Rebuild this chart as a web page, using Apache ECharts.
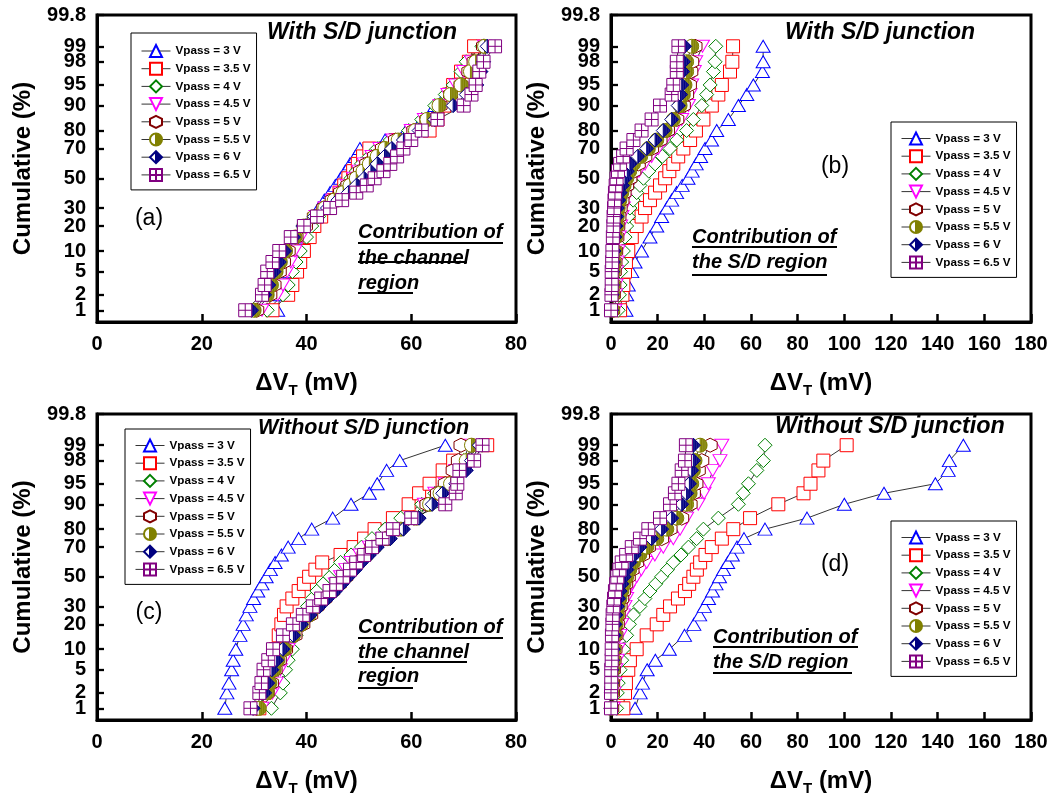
<!DOCTYPE html>
<html><head><meta charset="utf-8">
<script src="https://cdn.jsdelivr.net/npm/echarts@6/dist/echarts.min.js"></script>
<style>html,body{margin:0;padding:0;background:#fff}#c{width:1061px;height:801px}</style>
</head><body><div id="c"></div>
<script>
// ---------- DATA ----------
// cumulative probability levels (%) at which each series' dVT was read
const cumPct = [1, 2, 3, 5, 7, 10, 15, 20, 25, 30, 35, 40, 45, 50, 55, 60, 65, 70, 75, 80, 85, 90, 93, 95, 97, 98, 99];
const yTickPct = [1, 2, 5, 10, 20, 30, 50, 70, 80, 90, 95, 98, 99, 99.8];
const yTickLabels = ['1', '2', '5', '10', '20', '30', '50', '70', '80', '90', '95', '98', '99', '99.8'];
const yRangePct = [0.565, 99.8];
const seriesNames = ['Vpass = 3 V', 'Vpass = 3.5 V', 'Vpass = 4 V', 'Vpass = 4.5 V', 'Vpass = 5 V', 'Vpass = 5.5 V', 'Vpass = 6 V', 'Vpass = 6.5 V'];
const panelTitles = ['With S/D junction', 'With S/D junction', 'Without S/D junction', 'Without S/D junction'];
const panelLabels = ['(a)', '(b)', '(c)', '(d)'];
const xMaxes = [80, 180, 80, 180];

// (a) With S/D junction, channel region
const a_3V  = [34.5, 35.0, 35.3, 35.8, 36.3, 37.2, 38.5, 39.8, 41.0, 42.3, 43.4, 44.5, 45.5, 46.5, 47.4, 48.3, 49.3, 50.2, 55.0, 59.0, 62.0, 64.5, 66.5, 68.0, 69.8, 71.0, 72.5];
const a_35V = [33.5, 36.5, 37.3, 38.2, 38.8, 39.5, 40.6, 41.5, 42.8, 44.0, 45.2, 46.3, 47.2, 48.0, 48.9, 49.8, 50.8, 52.0, 57.0, 63.5, 65.0, 66.3, 67.2, 68.0, 69.5, 71.0, 72.0];
const a_4V  = [32.5, 35.5, 36.5, 37.3, 38.0, 38.8, 40.0, 41.0, 42.3, 43.8, 45.2, 46.5, 47.5, 48.5, 49.5, 50.5, 52.0, 53.5, 56.0, 59.5, 62.0, 64.5, 66.5, 68.0, 69.5, 70.5, 73.5];
const a_45V = [31.5, 34.5, 35.5, 36.3, 37.0, 37.8, 39.0, 40.3, 41.8, 43.5, 45.0, 46.5, 47.8, 49.0, 50.0, 51.0, 52.5, 54.0, 56.5, 60.0, 62.5, 65.5, 67.0, 68.5, 70.0, 71.5, 74.0];
const a_5V  = [30.5, 33.0, 33.8, 34.8, 35.6, 36.5, 38.0, 39.8, 41.5, 43.3, 44.9, 46.5, 47.9, 49.2, 50.3, 51.5, 53.0, 54.5, 57.0, 60.5, 63.0, 65.5, 67.5, 69.5, 71.0, 72.0, 73.8];
const a_55V = [30.0, 32.5, 33.3, 34.2, 35.0, 36.0, 37.8, 39.5, 41.5, 43.5, 45.3, 47.0, 48.3, 49.5, 50.8, 52.0, 53.5, 55.0, 57.5, 60.8, 63.0, 65.3, 67.5, 69.5, 71.3, 72.3, 74.0];
const a_6V  = [29.5, 32.0, 32.8, 33.8, 34.8, 35.8, 37.5, 39.3, 41.5, 44.0, 46.0, 48.0, 49.5, 51.0, 52.3, 53.5, 54.9, 56.3, 58.5, 61.5, 64.5, 68.0, 70.5, 72.5, 73.3, 73.8, 74.5];
const a_65V = [28.3, 31.5, 32.0, 32.5, 33.5, 34.8, 37.0, 39.5, 42.0, 44.5, 46.8, 49.5, 51.5, 53.0, 54.7, 56.0, 57.3, 58.5, 60.0, 62.0, 65.0, 70.0, 71.5, 72.3, 73.0, 73.8, 76.0];

// (b) With S/D junction, S/D region
const b_3V  = [6.4, 6.7, 7.4, 8.9, 10.3, 13.1, 16.7, 19.6, 21.7, 23.9, 26.0, 28.1, 30.5, 33.0, 34.8, 36.5, 38.4, 40.3, 43.1, 45.3, 50.3, 54.6, 58.2, 61.0, 64.9, 65.2, 65.2];
const b_35V = [3.9, 4.9, 5.3, 6.0, 6.4, 7.4, 8.9, 11.0, 13.1, 14.6, 16.7, 18.9, 21.0, 23.2, 25.0, 26.7, 28.8, 31.0, 33.9, 36.4, 39.6, 43.2, 46.0, 47.5, 51.0, 52.0, 52.3];
const b_4V  = [3.1, 3.6, 3.9, 4.1, 4.6, 5.3, 6.0, 6.7, 7.4, 8.1, 9.5, 11.0, 12.4, 13.9, 16.2, 18.9, 22.0, 25.3, 28.2, 32.4, 35.3, 38.9, 41.0, 42.5, 43.9, 44.6, 44.9];
const b_45V = [1.7, 2.0, 2.2, 2.4, 2.7, 3.1, 3.6, 4.1, 4.7, 5.3, 5.9, 6.7, 8.0, 9.6, 12.0, 14.6, 17.4, 20.3, 23.2, 26.7, 30.3, 33.2, 33.9, 34.6, 35.7, 36.3, 39.2];
const b_5V  = [0.7, 1.0, 1.2, 1.4, 1.7, 2.0, 2.5, 2.9, 3.4, 3.9, 4.7, 5.6, 6.7, 8.1, 9.8, 11.7, 14.5, 17.4, 21.0, 24.2, 28.2, 31.0, 32.4, 33.6, 34.2, 34.6, 36.0];
const b_55V = [0.6, 0.8, 0.9, 1.0, 1.3, 1.7, 2.0, 2.4, 2.7, 3.1, 3.8, 4.6, 5.6, 6.7, 8.0, 9.6, 12.7, 16.0, 19.6, 23.2, 26.7, 29.6, 31.0, 31.7, 32.4, 32.4, 34.6];
const b_6V  = [0.3, 0.5, 0.6, 0.7, 1.0, 1.3, 1.7, 2.1, 2.4, 2.7, 3.3, 3.9, 4.9, 6.0, 7.0, 8.1, 11.5, 15.3, 18.9, 22.4, 26.0, 28.8, 29.8, 30.3, 30.7, 31.0, 31.5];
const b_65V = [0.0, 0.2, 0.3, 0.3, 0.5, 0.6, 0.8, 1.0, 1.1, 1.3, 1.5, 1.7, 2.0, 2.4, 3.0, 3.9, 5.2, 6.7, 9.6, 13.1, 17.4, 21.0, 26.0, 26.7, 28.2, 28.2, 28.9];

// (c) Without S/D junction, channel region
const c_3V  = [24.4, 24.8, 25.2, 25.7, 26.0, 26.5, 27.3, 27.9, 28.5, 29.2, 29.9, 30.7, 31.5, 32.3, 33.1, 34.0, 35.2, 36.5, 38.5, 41.0, 45.0, 48.5, 52.0, 53.5, 55.3, 57.8, 66.5];
const c_35V = [31.0, 32.0, 32.6, 33.2, 33.6, 34.1, 34.7, 35.2, 35.7, 36.2, 37.3, 38.5, 39.5, 40.5, 41.7, 43.0, 46.5, 49.0, 51.0, 53.0, 56.5, 59.5, 61.5, 63.5, 66.0, 68.0, 74.5];
const c_4V  = [33.3, 35.0, 35.5, 36.0, 36.5, 37.3, 38.0, 38.8, 39.5, 40.2, 41.1, 42.0, 43.2, 44.5, 45.5, 46.5, 48.5, 50.5, 52.5, 55.0, 58.0, 62.0, 64.5, 66.5, 68.5, 70.0, 73.5];
const c_45V = [31.5, 33.5, 34.2, 35.0, 35.7, 36.5, 38.0, 39.3, 40.5, 41.8, 43.2, 44.5, 45.5, 46.5, 47.5, 48.5, 50.2, 52.0, 54.5, 57.0, 60.0, 62.5, 64.5, 66.5, 68.5, 70.0, 71.0];
const c_5V  = [30.5, 32.5, 33.3, 34.0, 34.8, 36.0, 37.8, 39.3, 40.8, 42.0, 43.5, 45.0, 46.3, 47.5, 48.5, 49.5, 51.0, 52.5, 55.0, 57.5, 60.5, 63.0, 65.0, 66.5, 68.0, 69.0, 69.5];
const c_55V = [31.0, 32.5, 33.0, 33.8, 34.5, 35.8, 37.5, 39.0, 40.5, 42.0, 43.5, 45.0, 46.3, 47.5, 48.8, 50.0, 51.5, 53.0, 55.5, 58.0, 61.0, 63.5, 65.5, 67.5, 69.5, 70.5, 71.5];
const c_6V  = [29.8, 32.0, 32.6, 33.4, 34.3, 35.5, 37.5, 39.0, 40.7, 42.5, 44.0, 45.5, 46.8, 48.0, 49.3, 50.5, 52.0, 53.5, 56.0, 58.5, 61.5, 64.0, 66.0, 68.5, 70.5, 71.5, 73.0];
const c_65V = [29.3, 31.0, 31.4, 31.8, 32.7, 33.6, 35.5, 37.4, 39.3, 41.2, 42.8, 44.4, 45.7, 47.0, 48.3, 49.5, 51.0, 52.5, 54.5, 56.5, 60.0, 66.5, 68.5, 68.8, 69.2, 72.0, 73.6];

// (d) Without S/D junction, S/D region
const d_3V  = [10.3, 12.5, 13.5, 15.5, 19.0, 25.0, 31.5, 35.5, 38.0, 40.0, 41.8, 43.5, 45.0, 46.5, 48.2, 50.0, 52.0, 54.0, 57.0, 66.0, 84.0, 100.0, 117.0, 139.0, 144.5, 145.0, 151.0];
const d_35V = [5.3, 6.0, 6.4, 7.4, 8.1, 11.0, 15.3, 19.6, 22.4, 25.3, 28.7, 31.7, 33.5, 35.3, 36.8, 38.2, 40.5, 43.2, 47.5, 52.4, 59.6, 71.7, 82.5, 85.5, 88.9, 91.0, 101.0];
const d_4V  = [2.4, 2.7, 3.1, 3.9, 4.6, 5.3, 6.7, 7.9, 9.6, 12.4, 14.5, 16.7, 19.2, 21.7, 24.2, 26.7, 30.0, 33.2, 36.7, 39.6, 46.0, 54.6, 56.7, 58.9, 62.5, 65.3, 66.0];
const d_45V = [1.0, 1.3, 1.7, 2.1, 2.7, 3.1, 3.9, 4.6, 5.3, 6.0, 6.7, 7.4, 9.0, 11.0, 13.0, 15.3, 18.8, 22.4, 26.7, 29.6, 32.4, 37.4, 39.9, 41.7, 43.6, 46.7, 47.5];
const d_5V  = [0.3, 0.6, 0.7, 1.0, 1.3, 1.7, 2.1, 2.7, 3.1, 3.9, 4.6, 5.3, 6.3, 7.4, 9.0, 11.0, 13.5, 16.0, 21.7, 25.3, 30.3, 33.9, 35.3, 36.4, 37.4, 38.9, 42.5];
const d_55V = [0.1, 0.3, 0.4, 0.7, 1.0, 1.3, 1.7, 2.1, 2.7, 3.1, 3.8, 4.6, 5.6, 6.7, 8.0, 9.6, 12.3, 15.3, 19.6, 23.9, 28.2, 32.4, 33.9, 34.6, 35.3, 36.0, 38.2];
const d_6V  = [0.0, 0.1, 0.3, 0.4, 0.7, 1.0, 1.3, 1.7, 2.1, 2.7, 3.3, 3.9, 4.7, 5.6, 6.8, 8.1, 10.0, 12.4, 17.4, 21.7, 26.0, 30.3, 32.4, 33.6, 34.6, 35.3, 35.3];
const d_65V = [0.0, 0.0, 0.1, 0.1, 0.3, 0.3, 0.4, 0.6, 0.7, 1.0, 1.3, 1.7, 2.2, 2.7, 3.6, 4.6, 6.5, 8.9, 12.4, 16.0, 21.0, 25.3, 27.4, 28.9, 30.3, 31.7, 32.1];

const panelData = [
  [a_3V, a_35V, a_4V, a_45V, a_5V, a_55V, a_6V, a_65V],
  [b_3V, b_35V, b_4V, b_45V, b_5V, b_55V, b_6V, b_65V],
  [c_3V, c_35V, c_4V, c_45V, c_5V, c_55V, c_6V, c_65V],
  [d_3V, d_35V, d_4V, d_45V, d_5V, d_55V, d_6V, d_65V]
];

// ---------- normal probability (probit) scale ----------
function probit(pct) {
  const p = pct / 100;
  const a = [-3.969683028665376e+01, 2.209460984245205e+02, -2.759285104469687e+02, 1.383577518672690e+02, -3.066479806614716e+01, 2.506628277459239e+00];
  const b = [-5.447609879822406e+01, 1.615858368580409e+02, -1.556989798598866e+02, 6.680131188771972e+01, -1.328068155288572e+01];
  const c = [-7.784894002430293e-03, -3.223964580411365e-01, -2.400758277161838e+00, -2.549732539343734e+00, 4.374664141464968e+00, 2.938163982698783e+00];
  const d = [7.784695709041462e-03, 3.224671290700398e-01, 2.445134137142996e+00, 3.754408661907416e+00];
  const pl = 0.02425, ph = 1 - pl;
  let q, r;
  if (p < pl) {
    q = Math.sqrt(-2 * Math.log(p));
    return (((((c[0]*q+c[1])*q+c[2])*q+c[3])*q+c[4])*q+c[5]) / ((((d[0]*q+d[1])*q+d[2])*q+d[3])*q+1);
  }
  if (p <= ph) {
    q = p - 0.5; r = q * q;
    return (((((a[0]*r+a[1])*r+a[2])*r+a[3])*r+a[4])*r+a[5])*q / (((((b[0]*r+b[1])*r+b[2])*r+b[3])*r+b[4])*r+1);
  }
  q = Math.sqrt(-2 * Math.log(1 - p));
  return -(((((c[0]*q+c[1])*q+c[2])*q+c[3])*q+c[4])*q+c[5]) / ((((d[0]*q+d[1])*q+d[2])*q+d[3])*q+1);
}
const yTickZ = yTickPct.map(probit);
// label order: start with the middle tick so the closely spaced end labels (1/2) are both kept
const midIdx = yTickPct.indexOf(50);
const yLabelZ = [yTickZ[midIdx]].concat(yTickZ.filter((z, i) => i !== midIdx));
function yLabel(v) {
  for (let i = 0; i < yTickZ.length; i++) if (Math.abs(yTickZ[i] - v) < 1e-6) return yTickLabels[i];
  return '';
}

// ---------- styles ----------
const FONT = '"Liberation Sans", Arial, Helvetica, sans-serif';
const colors = ['#0000ff', '#ff0000', '#008000', '#ff00ff', '#800000', '#808000', '#000080', '#800080'];
const symbols = [
  'triangle',
  'rect',
  'diamond',
  'path://M-10,-8.66 L10,-8.66 L0,8.66 Z',
  'path://M0,-10 L8.66,-5 L8.66,5 L0,10 L-8.66,5 L-8.66,-5 Z',
  // circle, right half filled
  'path://M0,-10 A10,10 0 1,1 0,10 A10,10 0 1,1 0,-10 Z M0,-10 L0,10 M1,-9.95 L1,9.95 M2,-9.8 L2,9.8 M3,-9.54 L3,9.54 M4,-9.17 L4,9.17 M5,-8.66 L5,8.66 M6,-8 L6,8 M7,-7.14 L7,7.14 M8,-6 L8,6 M9,-4.36 L9,4.36',
  // diamond, right half filled
  'path://M0,-10 L10,0 L0,10 L-10,0 Z M0,-10 L0,10 M1,-9 L1,9 M2,-8 L2,8 M3,-7 L3,7 M4,-6 L4,6 M5,-5 L5,5 M6,-4 L6,4 M7,-3 L7,3 M8,-2 L8,2 M9,-1 L9,1',
  'path://M-10,-10 L10,-10 L10,10 L-10,10 Z M0,-10 L0,10 M-10,0 L10,0'
];
const symSizes = [[14, 12], 13, 14, [14, 12], 14, 14, 14, 13];

const grids = [
  { left: 97, top: 15, width: 419, height: 307 },
  { left: 611, top: 15, width: 420, height: 307 },
  { left: 97, top: 414, width: 419, height: 306 },
  { left: 611, top: 414, width: 420, height: 306 }
].map(g => Object.assign(g, { show: true, borderColor: '#000', borderWidth: 3, containLabel: false }));

const xAxes = xMaxes.map((mx, i) => ({
  gridIndex: i, type: 'value', min: 0, max: mx, interval: 20,
  axisLine: { show: true, onZero: false, lineStyle: { color: '#000', width: 3 } },
  axisTick: { show: true, inside: true, length: 8, lineStyle: { color: '#000', width: 2.5 } },
  axisLabel: { color: '#000', fontSize: 20, fontWeight: 'bold', fontFamily: FONT, margin: 12, showMinLabel: true, showMaxLabel: true },
  splitLine: { show: false },
  name: '{n|ΔV}{s|T}{n| (mV)}', nameLocation: 'middle', nameGap: 47,
  nameTextStyle: {
    color: '#000',
    rich: {
      n: { fontSize: 24, fontWeight: 'bold', fontFamily: FONT, color: '#000' },
      s: { fontSize: 15, fontWeight: 'bold', fontFamily: FONT, color: '#000', padding: [14, 0, 0, 0] }
    }
  }
}));
const zMin = probit(yRangePct[0]), zMax = probit(yRangePct[1]);
const yAxes = [0, 1, 2, 3].map(i => ({
  gridIndex: i, type: 'value', min: zMin, max: zMax,
  axisLine: { show: true, onZero: false, lineStyle: { color: '#000', width: 3 } },
  axisTick: { show: true, inside: true, length: 7, customValues: yLabelZ, lineStyle: { color: '#000', width: 2.3 } },
  axisLabel: { customValues: yLabelZ, formatter: yLabel, color: '#000', fontSize: 20, fontWeight: 'bold', fontFamily: FONT, margin: 11, hideOverlap: false },
  splitLine: { show: false },
  name: 'Cumulative (%)', nameLocation: 'middle', nameGap: 62, nameRotate: 90,
  nameTextStyle: { color: '#000', fontSize: 24, fontWeight: 'bold', fontFamily: FONT }
}));

const series = [];
panelData.forEach((sets, p) => {
  sets.forEach((vals, s) => {
    series.push({
      type: 'line', name: seriesNames[s], xAxisIndex: p, yAxisIndex: p,
      data: vals.map((x, i) => [x, probit(cumPct[i])]),
      symbol: symbols[s], symbolSize: symSizes[s], showSymbol: true, showAllSymbol: true,
      itemStyle: { color: '#ffffff', borderColor: colors[s], borderWidth: 1 },
      lineStyle: { color: '#000', width: 0.8 },
      emphasis: { disabled: true }, silent: true, animation: false
    });
  });
});

const legendPos = [
  { left: 131, top: 33, padding: [11, 6, 8, 10] },
  { left: 891, top: 122, padding: [9.5, 6, 8, 10] },
  { left: 125, top: 429, padding: [9.5, 6, 8, 10] },
  { left: 891, top: 521, padding: [9.5, 6, 8, 10] }
];
const legends = legendPos.map(l => Object.assign({
  orient: 'vertical', data: seriesNames, selectedMode: false,
  itemWidth: 29, itemHeight: 15, itemGap: 3.7,
  borderColor: '#000', borderWidth: 1, backgroundColor: '#fff', borderRadius: 0,
  lineStyle: { color: '#333', width: 1 },
  textStyle: { color: '#000', fontSize: 11.7, fontWeight: 'bold', fontFamily: FONT }
}, l));

// ---------- annotations ----------
const titlePos = [[267, 33, 23], [785, 33, 23], [258, 428, 21.5], [775, 427, 23.4]];
const labelPos = [[149, 219], [835, 167], [149, 613], [835, 565]];
const noteLines = [
  [['Contribution of', 358, 232, 503, 243], ['the channel', 358, 258, 467, 262], ['region', 358, 283, 413, 293]],
  [['Contribution of', 692, 237, 837, 247], ['the S/D region', 692, 262, 827, 275]],
  [['Contribution of', 358, 627, 503, 638], ['the channel', 358, 652, 467, 662], ['region', 358, 676, 413, 688]],
  [['Contribution of', 713, 637, 858, 647], ['the S/D region', 713, 662, 852, 673]]
];
const graphic = [];
panelTitles.forEach((t, i) => {
  graphic.push({ type: 'text', x: titlePos[i][0], y: titlePos[i][1], z: 100,
    style: { text: t, fill: '#000', font: 'italic bold ' + titlePos[i][2] + 'px ' + FONT, align: 'left', verticalAlign: 'middle' } });
  graphic.push({ type: 'text', x: labelPos[i][0], y: labelPos[i][1], z: 100,
    style: { text: panelLabels[i], fill: '#000', font: '23px ' + FONT, align: 'center', verticalAlign: 'middle' } });
  noteLines[i].forEach(n => {
    graphic.push({ type: 'text', x: n[1], y: n[2], z: 100,
      style: { text: n[0], fill: '#000', font: 'italic bold 20px ' + FONT, align: 'left', verticalAlign: 'middle' } });
    graphic.push({ type: 'line', z: 100, shape: { x1: n[1], y1: n[4], x2: n[3], y2: n[4] }, style: { stroke: '#000', lineWidth: 2 } });
  });
});

const chart = echarts.init(document.getElementById('c'), null, { renderer: 'canvas' });
chart.setOption({
  backgroundColor: '#fff', animation: false,
  textStyle: { fontFamily: FONT },
  grid: grids, xAxis: xAxes, yAxis: yAxes, legend: legends, series: series, graphic: graphic
});
</script></body></html>
